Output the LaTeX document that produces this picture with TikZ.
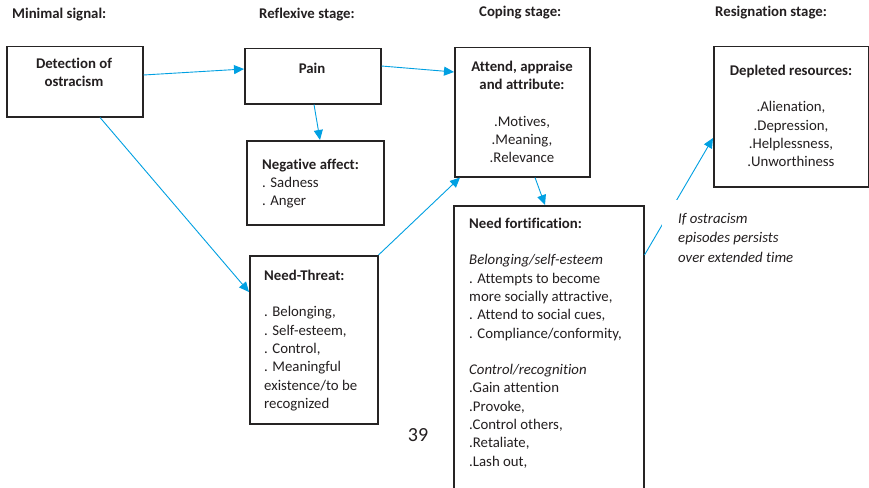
\documentclass[tikz,border=0pt]{standalone}
\usepackage{fontspec}
\setmainfont{Carlito}[Ligatures={NoCommon,NoContextual,NoRequired},Contextuals=NoAlternate]
\usetikzlibrary{arrows.meta,calc}
\definecolor{arrc}{RGB}{0,160,226}
\definecolor{boxc}{RGB}{38,36,36}
\definecolor{inkc}{RGB}{35,31,32}
\newcommand\dgfont{\fontsize{14.8}{18.3}\selectfont}
\tikzset{
  box/.style={draw=boxc, line width=1.5pt, inner sep=0pt, anchor=north west},
  conn/.style={draw=arrc, line width=0.9pt, -{Triangle[length=10pt,width=9pt]}},
  txt/.style={inner sep=0pt, text=inkc, font=\dgfont},
  ttl/.style={inner sep=0pt, text=inkc, font=\dgfont\bfseries, anchor=base west}
}
\begin{document}
\begin{tikzpicture}[x=1pt,y=-1pt]
\useasboundingbox (0,0) rectangle (869,487);
\clip (0,0) rectangle (869,487);
\fill[white] (0,0) rectangle (869,487);

% stage titles
\node[ttl] (t1) at (12,19) {Minimal signal:};
\node[ttl] (t2) at (259,19) {Reflexive stage:};
\node[ttl] (t3) at (479,17) {Coping stage:};
\node[ttl] (t4) at (715,17) {Resignation stage:};

% boxes
\node[box, minimum width=136pt, minimum height=70pt] (det) at (6,46) {};
\node[box, minimum width=136pt, minimum height=55pt] (pain) at (244,48) {};
\node[box, minimum width=137pt, minimum height=84pt] (neg) at (246,140) {};
\node[box, minimum width=128pt, minimum height=168pt] (thr) at (249,255) {};
\node[box, minimum width=135pt, minimum height=129pt] (att) at (454,47) {};
\node[box, minimum width=190pt, minimum height=300pt] (fort) at (453,205) {};
\node[box, minimum width=155pt, minimum height=140pt] (dep) at (713,46) {};

% box texts
\node[txt, font=\dgfont\bfseries, align=center, anchor=north] (detT) at (74,55.2)
  {\strut Detection of\\ostracism};
\node[txt, font=\dgfont\bfseries, anchor=base] (painT) at (312,73) {Pain};
\node[txt, align=left, anchor=north west] (negT) at (262,156.2)
  {\strut\textbf{Negative affect:}\\. Sadness\\. Anger};
\node[txt, align=left, anchor=north west] (thrT) at (264,267.2)
  {\strut\textbf{Need-Threat:}\\[18.3pt]. Belonging,\\. Self-esteem,\\. Control,\\. Meaningful\\existence/to be\\recognized};
\node[txt, align=center, anchor=north] (attT) at (522,58.2)
  {\strut\textbf{Attend, appraise}\\\textbf{and attribute:}\\[18.3pt].Motives,\\.Meaning,\\.Relevance};
\node[txt, align=left, anchor=north west] (fortT) at (469,215.2)
  {\strut\textbf{Need fortification:}\\[18.3pt]\textit{Belonging/self-esteem}\\. Attempts to become\\more socially attractive,\\. Attend to social cues,\\. Compliance/conformity,\\[18.3pt]\textit{Control/recognition}\\.Gain attention\\.Provoke,\\.Control others,\\.Retaliate,\\.Lash out,};
\node[txt, align=center, anchor=north] (depT) at (791,62.2)
  {\strut\textbf{Depleted resources:}\\[18.3pt].Alienation,\\.Depression,\\.Helplessness,\\.Unworthiness};

% connectors
\draw[conn] ($(det.north east)+(0,29)$) -- ($(pain.north west)+(0,21)$);
\draw[conn] ($(pain.north east)+(0,18)$) -- ($(att.north west)+(0,25)$);
\draw[conn] ($(pain.south west)+(70,0)$) -- ($(neg.north west)+(74,0)$);
\draw[conn] ($(det.south west)+(94,0)$) -- ($(thr.north west)+(0,37)$);
\draw[conn] (thr.north east) -- ($(att.south west)+(6,0)$);
\draw[conn] ($(att.south west)+(81,0)$) -- ($(fort.north west)+(92,0)$);
\draw[conn] ($(fort.north east)+(0,50)$) -- ($(dep.north west)+(0,92)$);

% condition label (covers part of the last connector)
\node[fill=white, inner xsep=16pt, inner ysep=9.35pt, anchor=north west, text=inkc,
      font=\fontsize{14.8}{19.5}\selectfont\itshape, align=left] (cond) at (662,200)
  {\strut If ostracism\\episodes persists\\over extended time};

% page number
\node[inner sep=0pt, text=inkc, font=\fontsize{20}{24}\selectfont, anchor=base] (pg) at (418,441) {39};
\end{tikzpicture}
\end{document}
